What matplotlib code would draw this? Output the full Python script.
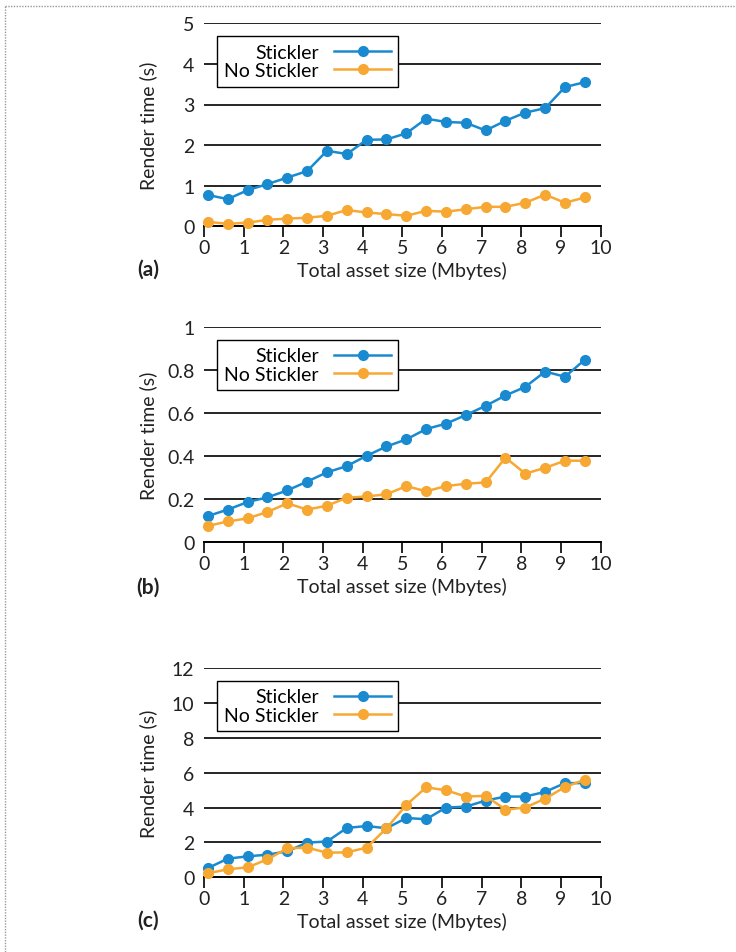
import matplotlib
matplotlib.use("Agg")
import matplotlib.pyplot as plt
from matplotlib.lines import Line2D

# ---- data ----
asset_size = [0.1, 0.6, 1.1, 1.6, 2.1, 2.6, 3.1, 3.6, 4.1, 4.6,
              5.1, 5.6, 6.1, 6.6, 7.1, 7.6, 8.1, 8.6, 9.1, 9.6]

a_stickler = [0.77, 0.67, 0.89, 1.04, 1.20, 1.36, 1.86, 1.78, 2.13, 2.14,
              2.29, 2.65, 2.57, 2.55, 2.36, 2.60, 2.80, 2.91, 3.43, 3.55]
a_none = [0.11, 0.06, 0.09, 0.16, 0.19, 0.21, 0.26, 0.40, 0.34, 0.30,
          0.26, 0.38, 0.36, 0.42, 0.48, 0.48, 0.58, 0.78, 0.58, 0.71]

b_stickler = [0.122, 0.152, 0.187, 0.209, 0.241, 0.282, 0.325, 0.354, 0.402, 0.445,
              0.478, 0.526, 0.551, 0.591, 0.634, 0.682, 0.722, 0.793, 0.769, 0.848]
b_none = [0.076, 0.097, 0.111, 0.141, 0.181, 0.152, 0.170, 0.207, 0.213, 0.223,
          0.261, 0.237, 0.261, 0.272, 0.278, 0.393, 0.319, 0.346, 0.379, 0.379]

c_stickler = [0.53, 1.07, 1.20, 1.30, 1.49, 1.99, 2.05, 2.83, 2.94, 2.81,
              3.40, 3.33, 4.00, 4.05, 4.40, 4.63, 4.63, 4.90, 5.40, 5.40]
c_none = [0.23, 0.46, 0.57, 1.03, 1.66, 1.70, 1.41, 1.43, 1.70, 2.81,
          4.15, 5.16, 4.99, 4.63, 4.67, 3.88, 4.00, 4.51, 5.18, 5.60]

panel_names = ["(a)", "(b)", "(c)"]
y_ticks = [[0, 1, 2, 3, 4, 5],
           [0, 0.2, 0.4, 0.6, 0.8, 1],
           [0, 2, 4, 6, 8, 10, 12]]
y_ticklabels = [["0", "1", "2", "3", "4", "5"],
                ["0", "0.2", "0.4", "0.6", "0.8", "1"],
                ["0", "2", "4", "6", "8", "10", "12"]]
x_ticks = list(range(0, 11))
series_labels = ["Stickler", "No Stickler"]

BLUE = "#1a8ad0"
ORANGE = "#f7a833"
INK = "#222222"
FS = 14

plt.rcParams["font.family"] = ["Lato", "DejaVu Sans"]
plt.rcParams["font.size"] = FS

W, H = 736, 953
fig = plt.figure(figsize=(W / 100, H / 100), dpi=100)

# axes boxes in pixels: (top, bottom)
x_left, x_right = 204, 600.7
boxes = [(24.3, 227.3), (328, 543.3), (669, 878.3)]
label_y = [270, 588, 921]

data = [(a_stickler, a_none), (b_stickler, b_none), (c_stickler, c_none)]

for i, ((top, bot), (s1, s2)) in enumerate(zip(boxes, data)):
    ax = fig.add_axes([x_left / W, 1 - bot / H, (x_right - x_left) / W, (bot - top) / H])
    ax.set_xlim(0, 10)
    ax.set_ylim(0, y_ticks[i][-1])

    for vals, col in [(s1, BLUE), (s2, ORANGE)]:
        ax.plot(asset_size, vals, color=col, lw=1.8, marker="o", ms=7,
                clip_on=False, zorder=3)

    ax.set_yticks(y_ticks[i])
    ax.set_yticklabels(y_ticklabels[i])
    ax.set_xticks(x_ticks)
    ax.yaxis.grid(True, color="black", lw=1.2)
    ax.set_axisbelow(True)
    for side in ["left", "right", "top"]:
        ax.spines[side].set_visible(False)
    ax.spines["bottom"].set_linewidth(1.4)
    ax.tick_params(axis="y", length=0, pad=7, labelsize=FS, labelcolor=INK)
    ax.tick_params(axis="x", length=8, width=1.2, pad=1.5, labelsize=FS,
                   colors="black", labelcolor=INK)
    ax.set_xlabel("Total asset size (Mbytes)", fontsize=FS, labelpad=3.5, color=INK)

    handles = [Line2D([], [], color=BLUE, lw=1.8, marker="o", ms=7),
               Line2D([], [], color=ORANGE, lw=1.8, marker="o", ms=7)]
    leg = ax.legend(handles, series_labels, loc="upper left",
                    bbox_to_anchor=(13 / 396.7, 1 - 13 / (bot - top)),
                    borderaxespad=0, markerfirst=False, fancybox=False,
                    framealpha=1, edgecolor="black", fontsize=FS,
                    handlelength=2.9, handletextpad=0.8, labelspacing=0.08,
                    borderpad=0.38)
    leg.get_frame().set_linewidth(1.0)
    leg.set_zorder(5)

    fig.text(148 / W, 1 - (top + bot) / 2 / H, "Render time (s)", fontsize=FS,
             rotation=90, ha="center", va="center", color=INK)
    fig.text(148 / W, 1 - label_y[i] / H, panel_names[i], fontsize=FS + 1,
             fontweight="bold", ha="center", va="center", color=INK)

# dotted frame along the top and left edges
fig.add_artist(Line2D([5 / W, 1], [1 - 7 / H, 1 - 7 / H], transform=fig.transFigure,
                      color="#999999", lw=1, ls=(0, (1, 1))))
fig.add_artist(Line2D([5 / W, 5 / W], [0, 1 - 7 / H], transform=fig.transFigure,
                      color="#999999", lw=1, ls=(0, (1, 1))))

fig.savefig("out.png", dpi=100)
